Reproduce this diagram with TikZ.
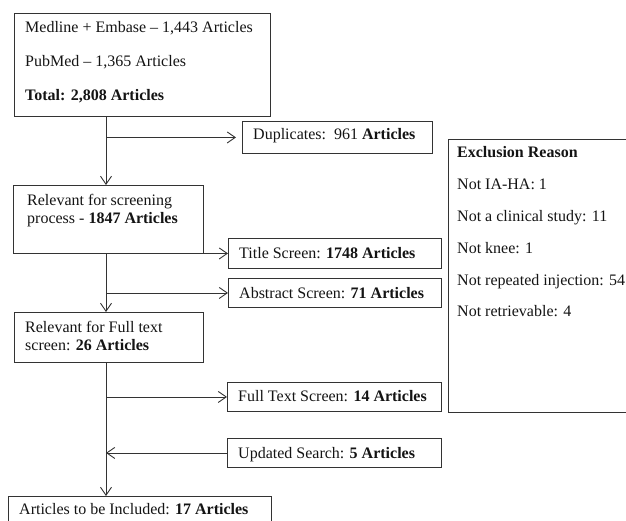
\documentclass[tikz,border=0pt]{standalone}
\usepackage{fontspec}
\setmainfont{Liberation Serif}
\usetikzlibrary{arrows.meta}
\begin{document}
\begin{tikzpicture}[x=1pt,y=-1pt,
  frame/.style={draw=black!80, line width=0.9pt, inner sep=0pt, anchor=north west},
  txt/.style={inner sep=0pt, font=\fontsize{16}{18}\selectfont, text=black!92, align=left},
  flow/.style={draw=black!80, line width=0.9pt, -{Straight Barb[length=8pt,width=11pt,line width=0.9pt]}}]
\useasboundingbox (0,0) rectangle (626,521);
% boxes
\node[frame, minimum width=256pt, minimum height=103pt] (b1) at (14,13) {};
\node[frame, minimum width=190pt, minimum height=32pt] (dup) at (242,121) {};
\node[frame, minimum width=190pt, minimum height=68pt] (b2) at (13,185) {};
\node[frame, minimum width=213pt, minimum height=30pt] (title) at (228,238) {};
\node[frame, minimum width=213pt, minimum height=29pt] (abs) at (228,278) {};
\node[frame, minimum width=189pt, minimum height=50pt] (b3) at (14,312) {};
\node[frame, minimum width=214pt, minimum height=29pt] (full) at (227,382) {};
\node[frame, minimum width=214pt, minimum height=29pt] (upd) at (227,438) {};
\node[frame, minimum width=263pt, minimum height=40pt] (fin) at (8,496) {};
\node[frame, minimum width=200pt, minimum height=273pt] (excl) at (448,139) {};
% texts
\node[txt, anchor=base west] (t1a) at (25,32.3) {Medline + Embase – 1,443 Articles};
\node[txt, anchor=base west] (t1b) at (25,66.7) {PubMed – 1,365 Articles};
\node[txt, anchor=base west] (t1c) at (25,101) {\textbf{Total: 2,808 Articles}};
\node[txt, anchor=base west] (tdup) at (253,139.3) {Duplicates:\ \ 961 \textbf{Articles}};
\node[txt, anchor=north west] (t2) at (27,193.6) {Relevant for screening\\process - \textbf{1847 Articles}};
\node[txt, anchor=base west] (ttitle) at (239,258.3) {Title Screen: \textbf{1748 Articles}};
\node[txt, anchor=base west] (tabs) at (239,298.3) {Abstract Screen: \textbf{71 Articles}};
\node[txt, anchor=north west] (t3) at (25,321.3) {Relevant for Full text\\screen: \textbf{26 Articles}};
\node[txt, anchor=base west] (tfull) at (238,401) {Full Text Screen: \textbf{14 Articles}};
\node[txt, anchor=base west] (tupd) at (238,458) {Updated Search: \textbf{5 Articles}};
\node[txt, anchor=base west] (tfin) at (19,514.3) {Articles to be Included: \textbf{17 Articles}};
\node[txt, anchor=base west] (e0) at (457,158) {\textbf{Exclusion Reason}};
\node[txt, anchor=base west] (e1) at (457,190) {Not IA-HA: 1};
\node[txt, anchor=base west] (e2) at (457,221.7) {Not a clinical study: 11};
\node[txt, anchor=base west] (e3) at (457,253.3) {Not knee: 1};
\node[txt, anchor=base west] (e4) at (457,285) {Not repeated injection: 54};
\node[txt, anchor=base west] (e5) at (457,316.7) {Not retrievable: 4};
% connectors
\coordinate (v) at (106,0);
\draw[flow] (v |- b1.south) -- (v |- b2.north);
\draw[flow, shorten >=6pt] (v |- dup.west) -- (dup.west);
\draw[flow] (v |- b2.south) -- (v |- b3.north);
\draw[flow] (v |- title.west) -- (title.west);
\draw[flow] (v |- abs.west) -- (abs.west);
\draw[flow] (v |- b3.south) -- (v |- fin.north);
\draw[flow] (v |- full.west) -- (full.west);
\draw[flow] (upd.west) -- (v |- upd.west);
\end{tikzpicture}
\end{document}
